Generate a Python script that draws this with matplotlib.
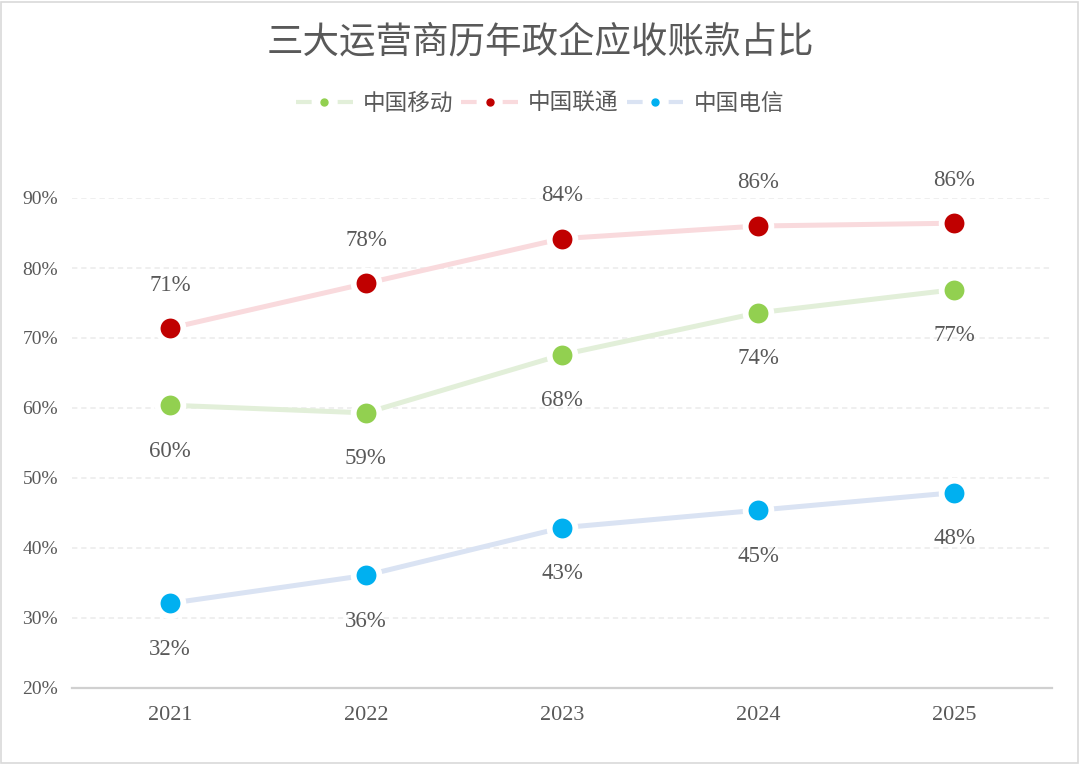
import matplotlib
matplotlib.use("Agg")
import matplotlib.pyplot as plt
from matplotlib.lines import Line2D
from matplotlib.patches import Rectangle

plt.rcParams['font.family'] = ['Liberation Serif', 'Noto Sans CJK SC', 'DejaVu Sans']

years = ['2021', '2022', '2023', '2024', '2025']
mobile = [60.4, 59.3, 67.6, 73.6, 76.9]
unicom = [71.4, 77.8, 84.2, 86.0, 86.4]
telecom = [32.1, 36.1, 42.9, 45.4, 47.9]
series_names = ['中国移动', '中国联通', '中国电信']
yticks = [20, 30, 40, 50, 60, 70, 80, 90]
title = '三大运营商历年政企应收账款占比'

line_colors = ['#e2efd9', '#f9dadd', '#dae3f3']
marker_colors = ['#92d050', '#c00000', '#00b0f0']
label_offsets = [-33, 31, -33]  # points; negative = below
text_color = '#595959'

fig = plt.figure(figsize=(10.8, 7.64), dpi=100)
ax = fig.add_axes([72/1080, 1-688/764, 980/1080, 490/764])

x = list(range(len(years)))
for data, lc, mc, off in zip([mobile, unicom, telecom], line_colors, marker_colors, label_offsets):
    ax.plot(x, data, color=lc, lw=3.6, solid_capstyle='butt', zorder=3,
            marker='o', markersize=18.5, markerfacecolor=mc,
            markeredgecolor='white', markeredgewidth=4.2, clip_on=False)
    for xi, v in zip(x, data):
        ax.annotate(f'{round(v)}%', (xi, v), xytext=(0, off), textcoords='offset points',
                    ha='center', va='center', fontsize=16.5, color=text_color,
                    annotation_clip=False, zorder=5)

ax.set_xlim(-0.5, len(years) - 0.5)
ax.set_ylim(20, 90)
ax.set_xticks(x)
ax.set_xticklabels(years)
ax.set_yticks(yticks)
ax.set_yticklabels([f'{t}%' for t in yticks])
ax.tick_params(axis='x', length=0, labelsize=16, labelcolor=text_color, pad=13)
ax.tick_params(axis='y', length=0, labelsize=14, labelcolor=text_color, pad=10)
for t in yticks[1:]:
    ax.axhline(t, color='#ebebeb', lw=1.1, ls=(0, (3.5, 2.5)), zorder=1)
for s in ['left', 'right', 'top']:
    ax.spines[s].set_visible(False)
ax.spines['bottom'].set_color('#d0d0d0')
ax.spines['bottom'].set_linewidth(1.6)

fig.text(0.5, 1 - 42/764, title, ha='center', va='center', fontsize=26.3,
         color=text_color, family=['Noto Sans CJK SC'])

handles = []
for lc, mc in zip(line_colors, marker_colors):
    handles.append(Line2D([0], [0], color=lc, lw=3, ls=(0, (3.75, 6.25)),
                          marker='o', markersize=5, markerfacecolor=mc,
                          markeredgecolor=mc))
leg = fig.legend(handles, series_names, loc='center', bbox_to_anchor=(0.5, 1 - 103/764),
                 ncol=3, frameon=False, handlelength=2.5, numpoints=1,
                 columnspacing=0.35, handletextpad=0.45,
                 prop={'family': ['Noto Sans CJK SC'], 'size': 16.3})
for t in leg.get_texts():
    t.set_color(text_color)

fig.patches.append(Rectangle((1/1080, 1/764), 1 - 3/1080, 1 - 3/764, transform=fig.transFigure,
                             fill=False, edgecolor='#d9d9d9', lw=1.2))

fig.savefig('out.png', dpi=100, facecolor='white')
